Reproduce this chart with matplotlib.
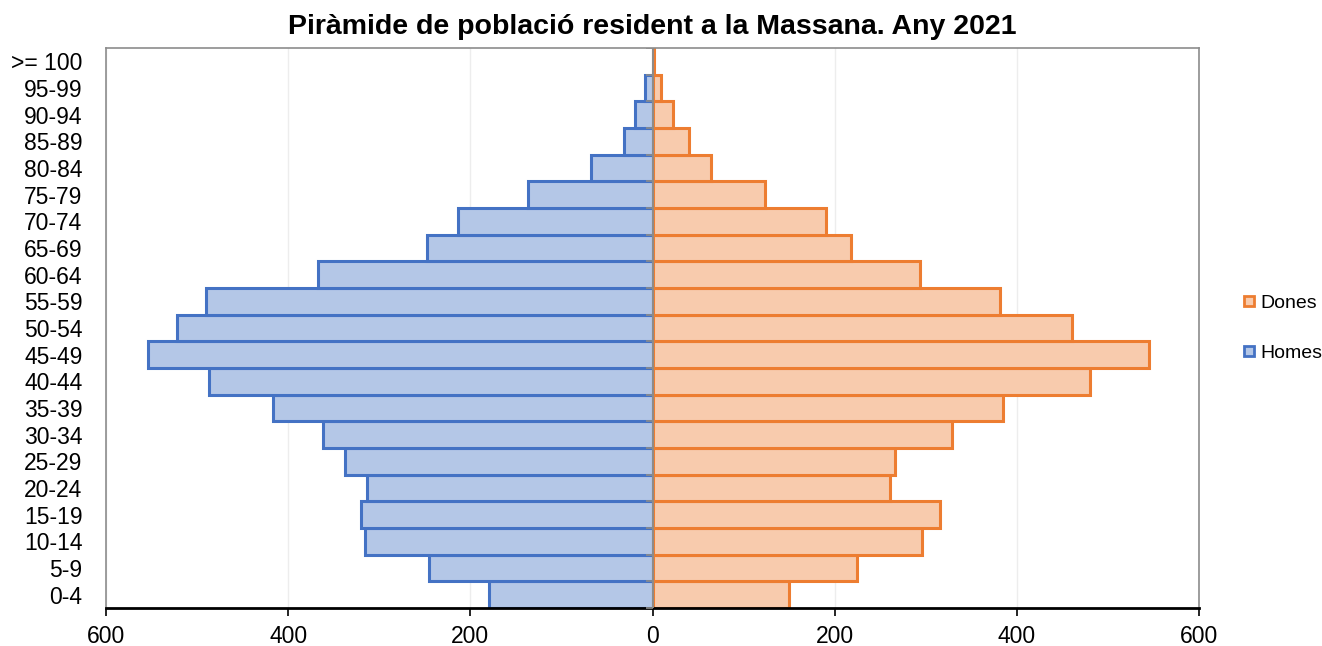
import matplotlib.pyplot as plt
from matplotlib.lines import Line2D
import numpy as np

plt.rcParams['font.family'] = ['Liberation Sans', 'DejaVu Sans']

edats = ['0-4', '5-9', '10-14', '15-19', '20-24', '25-29', '30-34', '35-39',
         '40-44', '45-49', '50-54', '55-59', '60-64', '65-69', '70-74',
         '75-79', '80-84', '85-89', '90-94', '95-99', '>= 100']
homes = [180, 245, 316, 320, 313, 338, 362, 417, 487, 554, 522, 490, 367,
         248, 214, 137, 67, 31, 19, 8, 0]
dones = [150, 225, 296, 316, 261, 266, 329, 385, 480, 545, 461, 382, 294,
         218, 191, 124, 64, 40, 23, 9, 2]
xticks = [-600, -400, -200, 0, 200, 400, 600]

blau, blau_fons = '#4472C4', '#B4C7E7'
taronja, taronja_fons = '#ED7D31', '#F8CBAD'

fig = plt.figure(figsize=(13.22, 6.46), dpi=100)
ax = fig.add_axes([106/1322, 1 - 608/646, 1093/1322, 560/646])

y = np.arange(len(edats))
ax.barh(y, -np.array(homes), height=1.0, color=blau_fons, edgecolor=blau,
        linewidth=2.2, zorder=2)
ax.barh(y, dones, height=1.0, color=taronja_fons, edgecolor=taronja,
        linewidth=2.2, zorder=2)

# eix vertical a 0 amb marques de categoria
ax.axvline(0, color='#8C8C8C', linewidth=1.4, zorder=3)
vores = np.arange(len(edats) + 1) - 0.5
ax.plot(np.zeros(len(vores)), vores, linestyle='none', marker=0,
        markersize=5, markeredgewidth=1.2, color='#8C8C8C', zorder=3)

ax.set_xlim(-600, 600)
ax.set_ylim(-0.5, len(edats) - 0.5)
ax.set_xticks(xticks)
ax.set_xticklabels([str(abs(v)) for v in xticks], fontsize=16.5)
ax.set_yticks(y)
ax.set_yticklabels(edats, fontsize=16.5)
ax.tick_params(axis='y', length=0, pad=17)
ax.tick_params(axis='x', length=6, width=1.2, color='black', pad=6)

ax.grid(axis='x', color='#EDEDED', linewidth=1, zorder=0)
ax.set_axisbelow(True)
for s in ['left', 'top', 'right']:
    ax.spines[s].set_color('#8C8C8C')
    ax.spines[s].set_linewidth(1.2)
ax.spines['bottom'].set_color('black')
ax.spines['bottom'].set_linewidth(2)

fig.text(652/1322, 1 - 27/646, 'Piràmide de població resident a la Massana. Any 2021',
         ha='center', va='center', fontsize=20.5, fontweight='bold')

handles = [
    Line2D([], [], linestyle='none', marker='s', markersize=7,
           markerfacecolor=taronja_fons, markeredgecolor=taronja, markeredgewidth=2),
    Line2D([], [], linestyle='none', marker='s', markersize=7,
           markerfacecolor=blau_fons, markeredgecolor=blau, markeredgewidth=2),
]
fig.legend(handles, ['Dones', 'Homes'], loc='center left',
           bbox_to_anchor=(1242/1322, 1 - 328/646), frameon=False,
           borderpad=0, borderaxespad=0,
           fontsize=14, handlelength=0.7, handletextpad=0.25, labelspacing=1.65)

fig.savefig('out.png', dpi=100)
